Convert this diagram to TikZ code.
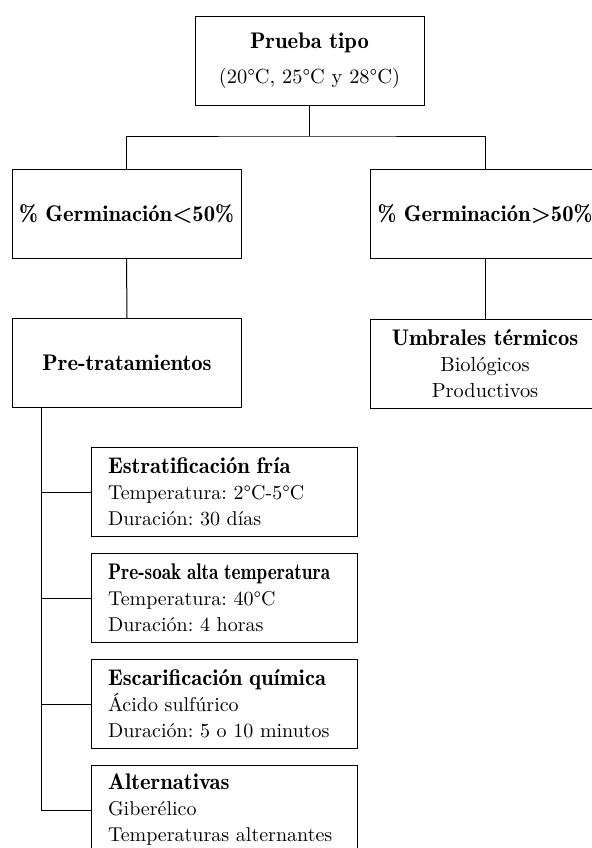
\documentclass[tikz,border=0pt]{standalone}
\usepackage{fontspec}
\setmainfont{lmroman10-regular.otf}[BoldFont=lmromandemi10-regular.otf]
\usetikzlibrary{positioning}
\frenchspacing

% Bold heading inside a box
\newcommand{\boxhead}[1]{{\fontsize{11.3}{13}\selectfont\bfseries #1}}

\tikzset{
  box/.style={draw, line width=0.5pt, minimum width=114.5pt, minimum height=44.5pt,
    inner sep=0pt, align=center, font=\fontsize{10.2}{13}\selectfont},
  subbox/.style={draw, line width=0.5pt, text width=116pt, inner xsep=8.5pt,
    inner ysep=0pt, minimum height=44.5pt, align=left, font=\fontsize{10}{13}\selectfont},
  link/.style={line width=0.5pt}
}

\begin{document}
\begin{tikzpicture}[x=0.5pt, y=-0.5pt]
    % Fix the page to the size of the reference
    \useasboundingbox (0,0) rectangle (591,848);

    % Define the top box and the two result boxes
    \node[box] (test) at (309.5,61) {\boxhead{Prueba tipo}\\[4.5pt](20°C, 25°C y 28°C)};
    \node[box] (low) at (126.5,214) {\boxhead{\% Germinación<50\%}};
    \node[box] (high) at (485,214) {\boxhead{\% Germinación>50\%}};

    % Define the boxes of the second level
    \node[box] (pre) at (127,363) {\boxhead{Pre-tratamientos}};
    \node[box] (umbral) at (485,364) {\boxhead{Umbrales térmicos}\\Biológicos\\Productivos};

    % Define the four pre-treatments, stacked under each other
    \node[subbox] (s1) at (224,492) {\boxhead{Estratificación fría}\\Temperatura: 2°C-5°C\\Duración: 30 días};
    \node[subbox, below=8pt of s1] (s2) {\scalebox{0.85}[1]{\boxhead{Pre-soak alta temperatura}}\\Temperatura: 40°C\\Duración: 4 horas};
    \node[subbox, below=8pt of s2] (s3) {\boxhead{Escarificación química}\\Ácido sulfúrico\\Duración: 5 o 10 minutos};
    \node[subbox, below=8pt of s3] (s4) {\boxhead{Alternativas}\\Giberélico\\Temperaturas alternantes};

    % Draw the fork under the top box
    \draw[link] (test.south) -- ++(0,30) coordinate (fork);
    \draw[link] (low.north) |- (fork) -| (high.north);

    % Draw the links to the second level
    \draw[link] (low.south) -- (pre.north);
    \draw[link] (high.south) -- (umbral.north);

    % Draw the trunk and the branches to the pre-treatments
    \coordinate (trunk) at ([xshift=14.5pt]pre.south west);
    \draw[link] (trunk) |- (s4.west);
    \foreach \s in {s1,s2,s3}
        \draw[link] (trunk |- \s.west) -- (\s.west);

\end{tikzpicture}
\end{document}
